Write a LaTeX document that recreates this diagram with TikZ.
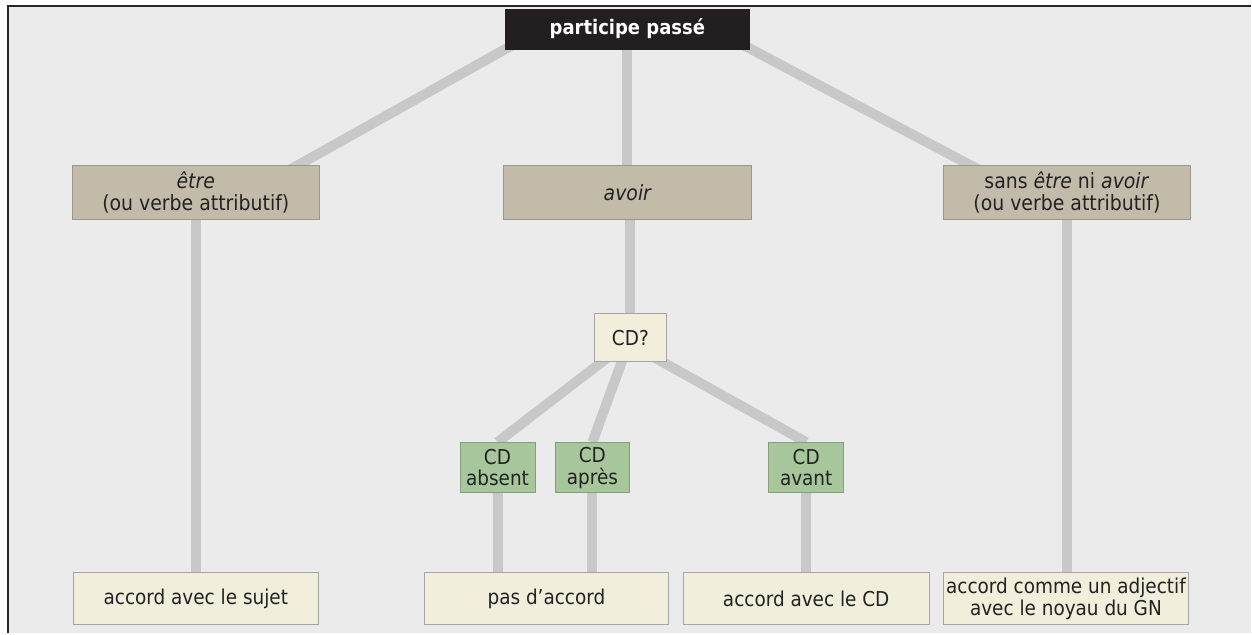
\documentclass[tikz,border=0pt]{standalone}
\usepackage{fontspec}
\setmainfont{DejaVu Sans Condensed}
\pgfdeclarelayer{back}
\pgfdeclarelayer{lines}
\pgfsetlayers{back,lines,main}
\definecolor{bgc}{HTML}{EBEBEB}
\definecolor{linec}{HTML}{C8C8C8}
\definecolor{tanc}{HTML}{C3BBA9}
\definecolor{creamc}{HTML}{F1EEDC}
\definecolor{greenc}{HTML}{A8C69B}
\definecolor{blackc}{HTML}{231F20}
\definecolor{txtc}{HTML}{222222}
\tikzset{
  base/.style={draw=gray!70, line width=0.8pt, align=center, inner sep=1pt, text=txtc, font=\fontsize{20.5}{22}\selectfont},
  topbox/.style={base, fill=blackc, draw=blackc, text=white, font=\fontsize{20}{22}\selectfont\bfseries, minimum width=245, minimum height=40},
  tanbox/.style={base, fill=tanc, draw=tanc!80!black, minimum width=248, minimum height=54, font=\fontsize{21}{22}\selectfont},
  creambox/.style={base, fill=creamc, minimum width=246, minimum height=52},
  greenbox/.style={base, fill=greenc, draw=greenc!80!black, minimum width=75, minimum height=50},
  conn/.style={draw=linec, line width=10pt},
}
\begin{document}
\begin{tikzpicture}[x=1pt,y=-1pt]
\begin{pgfonlayer}{back}
\fill[white] (0,0) rectangle (1252,634);
\fill[bgc] (8,6) rectangle (1252,634);
\draw[black!85, line width=2.5pt] (8,634) -- (8,6) -- (1252,6);
\end{pgfonlayer}
\useasboundingbox (0,0) rectangle (1252,634);

\node[topbox] (pp) at (628,29) {participe passé};
\node[tanbox] (etre) at (196,193) {\itshape être\\(ou verbe attributif)};
\node[tanbox] (avoir) at (628,193) {\itshape avoir};
\node[tanbox] (sans) at (1068,193) {sans \textit{être} ni \textit{avoir}\\(ou verbe attributif)};
\node[base, fill=creamc, minimum width=72, minimum height=48] (cdq) at (631,338) {CD?};
\node[greenbox] (abs) at (498,468) {CD\\absent};
\node[greenbox] (apr) at (593,468) {CD\\après};
\node[greenbox] (ava) at (807,468) {CD\\avant};
\node[creambox] (sujet) at (196,599) {accord avec le sujet};
\node[creambox, minimum width=244] (pas) at (547,599) {pas d’accord};
\node[creambox] (cd) at (807,599) {accord avec le CD};
\node[creambox, minimum height=53] (adj) at (1067,599) {accord comme un adjectif\\avec le noyau du GN};

\coordinate (ppL) at (515,44);
\coordinate (ppR) at (742,44);
\coordinate (etreT) at (290,170);
\coordinate (sansT) at (980,170);
\coordinate (cdqA) at (612,355);
\coordinate (cdqB) at (625,355);
\coordinate (cdqC) at (650,355);

\begin{pgfonlayer}{lines}
\draw[conn] (ppL) -- (etreT);
\draw[conn] (pp.south) -- (avoir.north);
\draw[conn] (ppR) -- (sansT);
\draw[conn] (etre.south) -- (sujet.north -| etre.south);
\draw[conn] (avoir.south -| cdq.north) -- (cdq.north);
\draw[conn] (sans.south) -- (adj.north -| sans.south);
\draw[conn] (cdqA) -- (abs.north);
\draw[conn] (cdqB) -- (apr.north);
\draw[conn] (cdqC) -- (ava.north);
\draw[conn] (abs.south) -- (pas.north -| abs.south);
\draw[conn] (apr.south) -- (pas.north -| apr.south);
\draw[conn] (ava.south) -- (cd.north -| ava.south);
\end{pgfonlayer}
\end{tikzpicture}
\end{document}
